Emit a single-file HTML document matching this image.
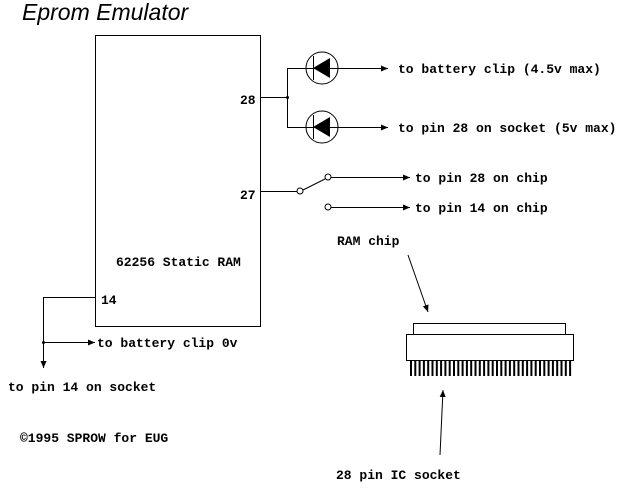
<!DOCTYPE html>
<html><head><style>body{margin:0;background:#fff}svg{display:block}text{font-family:"Liberation Mono",monospace;font-size:13px;font-weight:bold;fill:#000}</style></head>
<body>
<svg width="629" height="488" viewBox="0 0 629 488" xmlns="http://www.w3.org/2000/svg">
<defs><marker id="a" markerWidth="8" markerHeight="6" refX="7" refY="3" orient="auto" markerUnits="userSpaceOnUse"><path d="M0,0L7,3L0,6z" fill="#000"/></marker></defs>
<text x="22" y="20" style="font-family:'Liberation Sans',sans-serif;font-style:italic;font-weight:normal;font-size:23px">Eprom Emulator</text>
<g stroke="#000" stroke-width="1" fill="none">
<rect x="95.5" y="35.5" width="165" height="291"/>
<path d="M260 97.5H287.5M287.5 68V127M287 127.5H388" marker-end="url(#a)"/>
<path d="M287 68.5H388" marker-end="url(#a)"/>
<circle cx="322" cy="68" r="16"/><circle cx="322" cy="127" r="16"/>
<path d="M313.5 56V80M313.5 115V139"/>
<path d="M260 191.5H297"/>
<circle cx="300" cy="191" r="3"/><circle cx="328" cy="177" r="3"/><circle cx="328" cy="207" r="3"/>
<path d="M303 190L325 179"/>
<path d="M331 177.5H410" marker-end="url(#a)"/>
<path d="M331 207.5H410" marker-end="url(#a)"/>
<path d="M95 297.5H43.5V368" marker-end="url(#a)"/>
<path d="M43 342.5H95" marker-end="url(#a)"/>
<rect x="413.5" y="323.5" width="152" height="11"/>
<rect x="406.5" y="334.5" width="167" height="26"/>
<path d="M408 255L428 312" marker-end="url(#a)"/>
<path d="M440 455L443 390" marker-end="url(#a)"/>
</g>
<g fill="#000"><path d="M313 68L330 58V78z"/><path d="M313 127L330 117V137z"/>
<circle cx="287.5" cy="97.5" r="1.5"/><circle cx="43.5" cy="342.5" r="1.5"/></g>
<g stroke="#000" stroke-width="2">
<path d="M411 361V376M415.3 361V376M419.6 361V376M423.9 361V376M428.2 361V376M432.5 361V376M436.8 361V376M441.1 361V376M445.4 361V376M449.7 361V376M454 361V376M458.3 361V376M462.6 361V376M466.9 361V376M471.2 361V376M475.5 361V376M479.8 361V376M484.1 361V376M488.4 361V376M492.7 361V376M497 361V376M501.3 361V376M505.6 361V376M509.9 361V376M514.2 361V376M518.5 361V376M522.8 361V376M527.1 361V376M531.4 361V376M535.7 361V376M540 361V376M544.3 361V376M548.6 361V376M552.9 361V376M557.2 361V376M561.5 361V376M565.8 361V376M570.1 361V376"/>
</g>
<text x="398" y="73">to battery clip (4.5v max)</text>
<text x="398" y="132">to pin 28 on socket (5v max)</text>
<text x="415" y="182">to pin 28 on chip</text>
<text x="415" y="212">to pin 14 on chip</text>
<text x="240" y="104">28</text>
<text x="240" y="199">27</text>
<text x="101" y="304">14</text>
<text x="116" y="266">62256 Static RAM</text>
<text x="337" y="245">RAM chip</text>
<text x="97" y="347">to battery clip 0v</text>
<text x="8" y="391">to pin 14 on socket</text>
<text x="20" y="442">©1995 SPROW for EUG</text>
<text x="336" y="479">28 pin IC socket</text>
</svg>
</body></html>
